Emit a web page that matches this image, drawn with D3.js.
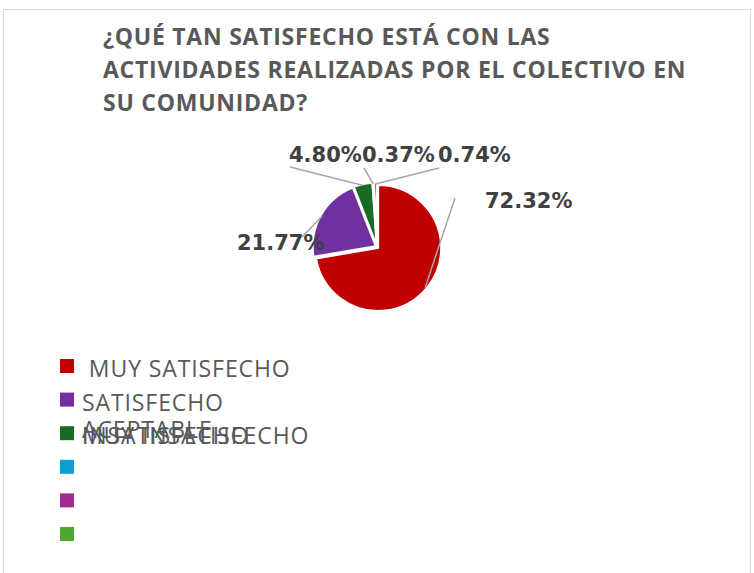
<!DOCTYPE html>
<html>
<head>
<meta charset="utf-8">
<script src="https://cdn.jsdelivr.net/npm/d3@7"></script>
<style>
  body { margin: 0; background: #fff; }
  svg { display: block; }
</style>
</head>
<body>
<svg id="chart" width="754" height="573"></svg>
<script>
// data
const categories = [" MUY SATISFECHO", "SATISFECHO", "ACEPTABLE", "INSATISFECHO", "MUY INSATISFECHO", ""];
const values = [72.32, 21.77, 4.80, 0.37, 0.74, 0];
const colors = ["#C00000", "#7030A0", "#196B24", "#0F9ED5", "#A02B93", "#4EA72E"];
const titleLines = ["¿QUÉ TAN SATISFECHO ESTÁ CON LAS", "ACTIVIDADES REALIZADAS POR EL COLECTIVO EN", "SU COMUNIDAD?"];

let W = 754, H = 573;
let CX = 377, CY = 247, R = 63;

let svg = d3.select('#chart');

// frame
svg.append('rect')
    .attr('x', 3.5).attr('y', 9.5)
    .attr('width', 747).attr('height', 600)
    .attr('fill', 'white')
    .attr('stroke', '#D9D9D9');

// title
svg.append('g').selectAll('text')
    .data(titleLines)
    .join('text')
    .attr('x', 103)
    .attr('y', (d, i) => 45 + i * 33)
    .attr('font-family', 'Open Sans')
    .attr('font-weight', 700)
    .attr('font-size', 23)
    .attr('letter-spacing', 0.75)
    .attr('fill', '#595959')
    .text(d => d);

let pie = d3.pie().sort(null).value(d => d);
let arcs = pie(values);
let arc = d3.arc().innerRadius(0).outerRadius(R);

let g = svg.append('g').attr('transform', `translate(${CX},${CY})`);

g.selectAll('path')
    .data(arcs)
    .join('path')
    .attr('transform', d => {
        let a = (d.startAngle + d.endAngle) / 2;
        return `translate(${Math.sin(a) * 1.5},${-Math.cos(a) * 1.5})`;
    })
    .attr('d', arc)
    .attr('fill', (d, i) => colors[i])
    .attr('stroke', 'white')
    .attr('stroke-width', 2);

// label anchors (offset from pie centre) - layout only
let labelPos = [
    {x: 108, y: -39, lx: 78, ly: -49},
    {x: -140, y: 3, lx: -75, ly: -10},
    {x: -88, y: -85, lx: -87, ly: -80},
    {x: -15, y: -85, lx: -13, ly: -79},
    {x: 61, y: -85, lx: 62, ly: -79}
];

let lab = g.append('g');
arcs.forEach((d, i) => {
    if (!labelPos[i]) return;
    let a = (d.startAngle + d.endAngle) / 2;
    let p = labelPos[i];
    lab.append('line')
        .attr('x1', Math.sin(a) * R).attr('y1', -Math.cos(a) * R)
        .attr('x2', p.lx).attr('y2', p.ly)
        .attr('stroke', '#A6A6A6')
        .attr('stroke-width', 1.5);
});
arcs.forEach((d, i) => {
    if (!labelPos[i]) return;
    let p = labelPos[i];
    lab.append('text')
        .attr('x', p.x).attr('y', p.y)
        .attr('font-family', 'DejaVu Sans')
        .attr('font-weight', 700)
        .attr('font-size', 21)
        .attr('fill', '#404040')
        .text(d3.format('.2f')(d.data) + '%');
});

// legend
let leg = svg.append('g');
leg.selectAll('rect')
    .data(categories)
    .join('rect')
    .attr('x', 60)
    .attr('y', (d, i) => 359 + i * 33.6)
    .attr('width', 14)
    .attr('height', 14)
    .attr('fill', (d, i) => colors[i]);

// the 3 last labels sit on top of each other, as in the original
let legRow = [0, 1, 2, 2, 2, 5];
let legDy = [0, 0, -6, 0, 0, 0];
leg.selectAll('text')
    .data(categories)
    .join('text')
    .attr('x', 82)
    .attr('y', (d, i) => 377 + legRow[i] * 33.6 + legDy[i])
    .attr('font-family', 'Open Sans')
    .attr('font-size', 23)
    .attr('letter-spacing', 0.9)
    .attr('fill', '#595959')
    .attr('xml:space', 'preserve')
    .style('white-space', 'pre')
    .text(d => d);
</script>
</body>
</html>
